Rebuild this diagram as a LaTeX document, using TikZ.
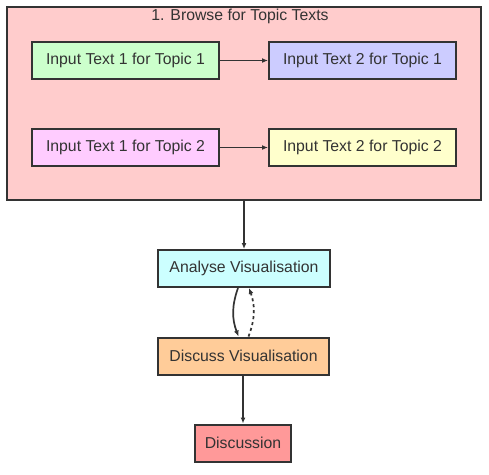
\documentclass[tikz,border=0pt]{standalone}
\usepackage{fontspec}
\setmainfont{Liberation Sans}
\usetikzlibrary{arrows.meta}
\definecolor{ink}{HTML}{333333}
\definecolor{clusterfill}{HTML}{FFCCCC}
\definecolor{greenfill}{HTML}{CCFFCC}
\definecolor{bluefill}{HTML}{CCCCFF}
\definecolor{pinkfill}{HTML}{FFCCFF}
\definecolor{yellowfill}{HTML}{FFFFCC}
\definecolor{cyanfill}{HTML}{CCFFFF}
\definecolor{orangefill}{HTML}{FFCC99}
\definecolor{redfill}{HTML}{FF9999}
\tikzset{
  box/.style={draw=ink, line width=2pt, text=ink, inner sep=0pt,
    minimum height=37pt, font=\fontsize{15.8}{18}\selectfont},
  topicbox/.style={box, minimum width=187pt},
  link/.style={draw=ink, line width=1.7pt, -{Latex[length=6pt,width=5pt]}},
}
\begin{document}
\begin{tikzpicture}[x=1pt,y=-1pt]
  \useasboundingbox (0,0) rectangle (489,474);
  % cluster
  \node[box, fill=clusterfill, minimum width=474pt, minimum height=193pt] (browse) at (244,103.5) {};
  \node[text=ink, font=\fontsize{15.8}{18}\selectfont] (browsetitle) at (240,16.5) {1. Browse for Topic Texts};

  \node[topicbox, fill=greenfill] (t1a) at (125.5,60.5) {Input Text 1 for Topic 1};
  \node[topicbox, fill=bluefill] (t1b) at (362.5,60.5) {Input Text 2 for Topic 1};
  \node[topicbox, fill=pinkfill] (t2a) at (125.5,147.5) {Input Text 1 for Topic 2};
  \node[topicbox, fill=yellowfill] (t2b) at (362.5,147.5) {Input Text 2 for Topic 2};
  \draw[link] (t1a) -- (t1b);
  \draw[link] (t2a) -- (t2b);

  % steps
  \node[box, fill=cyanfill, minimum width=172pt] (analyse) at (244,268.5) {Analyse Visualisation};
  \node[box, fill=orangefill, minimum width=171pt] (discuss) at (243.5,356) {Discuss Visualisation};
  \node[box, fill=redfill, minimum width=96pt] (discussion) at (243,443) {Discussion};

  \draw[link] (browse.south -| analyse) -- (analyse.north);
  \draw[link] ([xshift=-6pt]analyse.south) to[bend right=20] ([xshift=-5pt]discuss.north);
  \draw[link, dash pattern=on 3pt off 3pt] ([xshift=5pt]discuss.north) to[bend right=20] ([xshift=5pt]analyse.south);
  \draw[link] (discuss.south -| discussion) -- (discussion.north);
\end{tikzpicture}
\end{document}
